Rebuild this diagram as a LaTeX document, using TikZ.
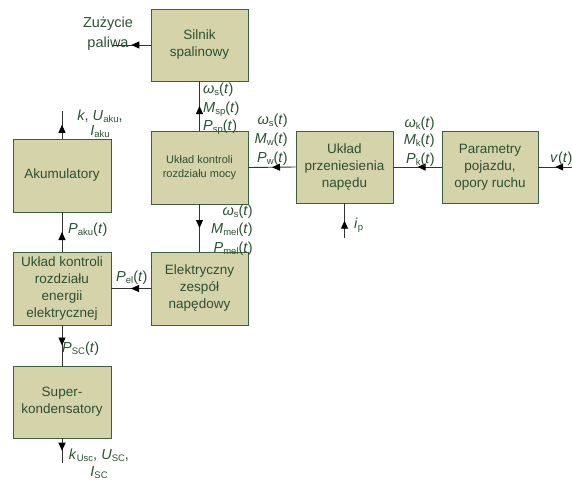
\documentclass[tikz,border=0pt]{standalone}
\usepackage{fontspec}
\setmainfont{Liberation Sans}
\usetikzlibrary{arrows.meta,decorations.markings}
\definecolor{boxfill}{RGB}{212,211,169}
\definecolor{boxline}{RGB}{60,95,65}
\definecolor{txtc}{RGB}{45,80,52}
\definecolor{connc}{RGB}{50,50,50}
\newcommand\sbs[1]{\raisebox{-2.5pt}{\fontsize{9.5}{10}\selectfont #1}}
\newcommand\lt{(\textit{t})}
\tikzset{
  blk/.style={draw=boxline, fill=boxfill, line width=0.9pt, minimum width=97pt, minimum height=72pt, inner sep=0pt, align=center, text=txtc, font=\fontsize{13.5}{17}\selectfont},
  lbl/.style={text=txtc, inner sep=0pt, font=\fontsize{14.5}{19}\selectfont},
  conn/.style={draw=connc, line width=0.9pt, postaction={decorate}, decoration={markings, mark=at position 0.5 with {\arrow{Triangle[length=8pt,width=7pt,color=black]}}}}
}
\begin{document}
\begin{tikzpicture}[x=1pt,y=-1pt]
\useasboundingbox (0,0) rectangle (572,479);
\clip (0,0) rectangle (572,479);
% blocks
\node[blk] (sil) at (199.5,45) {Silnik\\spalinowy};
\node[blk, minimum height=73pt, font=\fontsize{11}{13.5}\selectfont] (mocy) at (199.5,167.5) {Układ kontroli\\rozdziału mocy};
\node[blk] (prz) at (344.5,167) {Układ\\przeniesienia\\napędu};
\node[blk, minimum width=96pt] (par) at (490,167) {Parametry\\pojazdu,\\opory ruchu};
\node[blk, minimum width=98pt, minimum height=73pt] (aku) at (62,175.5) {Akumulatory};
\node[blk, minimum width=98pt, minimum height=73pt] (ene) at (62,288.5) {Układ kontroli\\rozdziału\\energii\\elektrycznej};
\node[blk, minimum height=73pt] (ele) at (199.5,288.5) {Elektryczny\\zespół\\napędowy};
\node[blk, minimum width=98pt] (sup) at (62,402) {Super-\\kondensatory};
% free ends
\coordinate (fuel) at (112,45);
\coordinate (vin) at (572,167);
\coordinate (ipin) at (344.5,238);
\coordinate (akuout) at (62,111);
\coordinate (supout) at (62,463);
% connectors
\draw[conn] (sil.west) -- (fuel);
\draw[conn] (mocy.north) -- (sil.south);
\draw[conn] (prz.west) -- (mocy.east);
\draw[conn] (par.west) -- (prz.east);
\draw[conn] (vin) -- (par.east);
\draw[conn] (ipin) -- (prz.south);
\draw[conn] (mocy.south) -- (ele.north);
\draw[conn] (ele.west) -- (ene.east);
\draw[conn] (ene.north) -- (aku.south);
\draw[conn] (aku.north) -- (akuout);
\draw[conn] (ene.south) -- (sup.north);
\draw[conn] (sup.south) -- (supout);
% labels
\node[lbl, anchor=base] (z1) at (108,27) {Zużycie};
\node[lbl, anchor=base] (z2) at (108,47) {paliwa};
\node[lbl, anchor=base west] (s1) at (203,93) {\textit{ω}\sbs{s}\lt};
\node[lbl, anchor=base west] (s2) at (203,112) {\textit{M}\sbs{sp}\lt};
\node[lbl, anchor=base west] (s3) at (203,130) {\textit{P}\sbs{sp}\lt};
\node[lbl, anchor=base] (a1) at (100,120) {\textit{k}, \textit{U}\sbs{aku},};
\node[lbl, anchor=base] (a2) at (100,135) {\textit{I}\sbs{aku}};
\node[lbl, anchor=base east] (w1) at (288,124) {\textit{ω}\sbs{s}\lt};
\node[lbl, anchor=base east] (w2) at (288,143) {\textit{M}\sbs{w}\lt};
\node[lbl, anchor=base east] (w3) at (288,162) {\textit{P}\sbs{w}\lt};
\node[lbl, anchor=base east] (m1) at (253,215) {\textit{ω}\sbs{s}\lt};
\node[lbl, anchor=base east] (m2) at (253,233) {\textit{M}\sbs{mel}\lt};
\node[lbl, anchor=base east] (m3) at (253,252) {\textit{P}\sbs{mel}\lt};
\node[lbl, anchor=base west] (pa) at (68,233) {\textit{P}\sbs{aku}\lt};
\node[lbl, anchor=base east] (k1) at (435,127) {\textit{ω}\sbs{k}\lt};
\node[lbl, anchor=base east] (k2) at (435,144) {\textit{M}\sbs{k}\lt};
\node[lbl, anchor=base east] (k3) at (435,163) {\textit{P}\sbs{k}\lt};
\node[lbl, anchor=base west] (v) at (550,162) {\textit{v}\lt};
\node[lbl, anchor=base west] (ip) at (354,228) {\textit{i}\sbs{p}};
\node[lbl, anchor=base west] (pel) at (116,281) {\textit{P}\sbs{el}\lt};
\node[lbl, anchor=base west] (psc) at (62,352) {\textit{P}\sbs{SC}\lt};
\node[lbl, anchor=base] (u1) at (99,459) {\textit{k}\sbs{Usc}, \textit{U}\sbs{SC},};
\node[lbl, anchor=base] (u2) at (99,476) {\textit{I}\sbs{SC}};
\end{tikzpicture}
\end{document}
